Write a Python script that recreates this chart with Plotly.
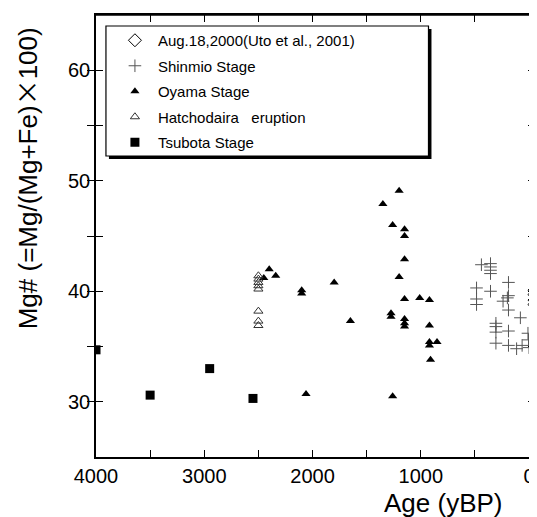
import plotly.graph_objects as go

# ---- data (age in yBP, Mg#) ----
aug_age = [-50, -50, -50, -50]
aug_mg = [40.1, 39.7, 39.2, 38.8]

shinmio_age = [440, 356, 356, 356, 356, 485, 485, 485, 356, 190, 190, 200, 240, 190,
               80, 306, 306, 306, 190, 306, 190, 115, 64, 10, 5, 0]
shinmio_mg = [42.4, 42.5, 42.2, 41.9, 41.6, 40.3, 39.3, 38.8, 40.0, 40.8, 39.6, 39.4, 39.1, 38.3,
              37.6, 37.1, 36.8, 36.3, 36.4, 35.3, 35.1, 34.8, 35.1, 36.2, 35.6, 34.9]

oyama_age = [2450, 2400, 2340, 2100, 2100, 2060, 1800, 1650, 1350, 1275, 1275, 1260, 1260,
             1200, 1200, 1150, 1150, 1150, 1150, 1150, 1150, 1150, 1010, 920, 920, 920, 920,
             850, 910]
oyama_mg = [41.2, 42.0, 41.4, 40.1, 39.8, 30.7, 40.8, 37.3, 47.9, 38.0, 37.7, 46.0, 30.5,
            49.1, 41.3, 45.6, 45.0, 42.9, 39.3, 37.5, 37.1, 36.8, 39.4, 39.2, 36.9, 35.4, 35.1,
            35.4, 33.8]

hatcho_age = [2500, 2500, 2500, 2500, 2500, 2500, 2500, 2500]
hatcho_mg = [41.4, 41.1, 40.8, 40.5, 40.2, 38.2, 37.3, 36.9]

tsubota_age = [4000, 3500, 2950, 2550]
tsubota_mg = [34.7, 30.6, 33.0, 30.3]

names = ["Aug.18,2000(Uto et al., 2001)", "Shinmio Stage", "Oyama Stage",
         "Hatchodaira   eruption", "Tsubota Stage"]

x_range = [4000, -55]
x_tickvals = [4000, 3500, 3000, 2500, 2000, 1500, 1000, 500, 0]
x_ticktext = ["4000", "", "3000", "", "2000", "", "1000", "", "0"]
y_tickvals = [30, 35, 40, 45, 50, 55, 60]
y_ticktext = ["30", "", "40", "", "50", "", "60"]

FONT = "Liberation Sans, Arial, sans-serif"

fig = go.Figure()
fig.add_trace(go.Scatter(x=aug_age, y=aug_mg, mode="markers", name=names[0], legendgroup="a",
                         marker=dict(symbol="diamond-open", size=10, color="black",
                                     line=dict(width=1, color="black"))))
fig.add_trace(go.Scatter(x=shinmio_age, y=shinmio_mg, mode="markers", name=names[1], legendgroup="b",
                         marker=dict(symbol="cross-thin-open", size=9, color="#555",
                                     line=dict(width=1, color="#555"))))
fig.add_trace(go.Scatter(x=oyama_age, y=oyama_mg, mode="markers", name=names[2], legendgroup="c",
                         marker=dict(symbol="triangle-up", size=8, color="black",
                                     line=dict(width=0))))
fig.add_trace(go.Scatter(x=hatcho_age, y=hatcho_mg, mode="markers", name=names[3], legendgroup="d",
                         marker=dict(symbol="triangle-up-open", size=8, color="#333",
                                     line=dict(width=1, color="#333"))))
fig.add_trace(go.Scatter(x=tsubota_age, y=tsubota_mg, mode="markers", name=names[4], legendgroup="e",
                         marker=dict(symbol="square", size=9, color="black",
                                     line=dict(width=0))))
# empty helper trace so the top (mirror) axis is drawn
fig.add_trace(go.Scatter(x=[], y=[], xaxis="x2", yaxis="y", showlegend=False,
                         hoverinfo="skip"))

# the page body has an 8px margin, so the figure is shifted by OFF
OFF = 8
W, H = 537 - OFF, 517 - OFF
L, R, T, B = 96 - OFF, 0, 15 - OFF, 60
pw, ph = W - L - R, H - T - B

def px(xp):
    return (xp - OFF - L) / pw

def py(yp):
    return (H - B - (yp - OFF)) / ph

# legend frame with drop shadow
fig.add_shape(type="rect", xref="paper", yref="paper",
              x0=px(109), x1=px(433), y0=py(159), y1=py(29),
              fillcolor="black", line=dict(width=0), layer="above")
fig.add_shape(type="rect", xref="paper", yref="paper",
              x0=px(106), x1=px(430), y0=py(156), y1=py(26),
              fillcolor="white", line=dict(width=1.2, color="black"), layer="above")
# top frame line
fig.add_shape(type="line", xref="paper", yref="paper", x0=0, x1=1, y0=1, y1=1,
              line=dict(width=1.5, color="black"), layer="above")

fig.add_annotation(text="Age (yBP)", xref="paper", yref="paper", x=px(445), y=py(503),
                   showarrow=False, font=dict(family=FONT, size=26, color="black"),
                   xanchor="center", yanchor="middle")
fig.add_annotation(text="Mg# (=Mg/(Mg+Fe)<span style='font-family:Noto Sans CJK JP'>×</span>100)",
                   xref="paper", yref="paper", x=px(25), y=py(178), textangle=-90,
                   showarrow=False, font=dict(family=FONT, size=26, color="black"),
                   xanchor="center", yanchor="middle")

axis_common = dict(ticks="inside", ticklen=7, tickwidth=1.2, tickcolor="black",
                   showline=True, linecolor="black", linewidth=1.5,
                   showgrid=False, zeroline=False)

fig.update_layout(
    width=W, height=H,
    margin=dict(l=L, r=R, t=T, b=B, pad=0),
    paper_bgcolor="white", plot_bgcolor="white",
    font=dict(family=FONT, color="black"),
    showlegend=True,
    legend=dict(x=px(112), y=py(24), xanchor="left", yanchor="top",
                bgcolor="rgba(0,0,0,0)", borderwidth=0,
                font=dict(family=FONT, size=15, color="black"),
                traceorder="grouped", tracegroupgap=3, itemwidth=36),
    xaxis=dict(range=x_range, tickvals=x_tickvals, ticktext=x_ticktext, mirror="allticks",
               tickfont=dict(family=FONT, size=20, color="black"), **axis_common),
    xaxis2=dict(range=x_range, tickvals=x_tickvals, showticklabels=False,
                overlaying="x", side="top", anchor="y", **axis_common),
    yaxis=dict(range=[25, 65], tickvals=y_tickvals, ticktext=y_ticktext, mirror="allticks",
               tickfont=dict(family=FONT, size=20, color="black"), **axis_common),
)

fig.write_html("out.html")
